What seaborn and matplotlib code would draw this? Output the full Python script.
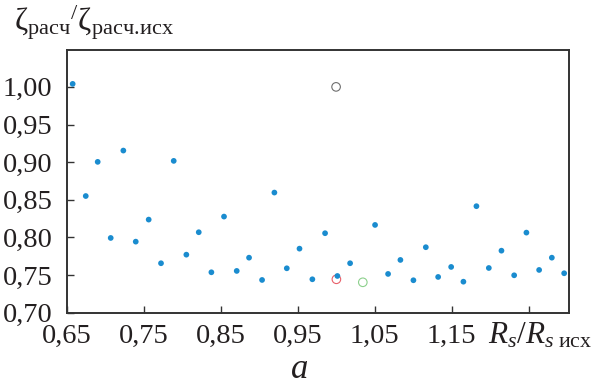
import matplotlib
matplotlib.use("Agg")
import matplotlib.pyplot as plt
import seaborn as sns
import pandas as pd

# ---- data ----
ratio_rs = [0.658, 0.675, 0.6905, 0.7074, 0.7238, 0.7399, 0.7567, 0.7727, 0.7892,
            0.8056, 0.8217, 0.8381, 0.8545, 0.8710, 0.8870, 0.9039, 0.9199, 0.9360,
            0.9525, 0.9692, 0.9857, 1.0017, 1.0182, 1.0506, 1.0675, 1.0835, 1.1004,
            1.1165, 1.1325, 1.1494, 1.1653, 1.1822, 1.1983, 1.2147, 1.2312, 1.2471,
            1.2636, 1.2801, 1.2961]
ratio_zeta = [1.004, 0.855, 0.9004, 0.7993, 0.9154, 0.7944, 0.8237, 0.7657, 0.9017,
              0.7771, 0.8069, 0.7537, 0.8277, 0.7555, 0.7731, 0.7435, 0.8596, 0.7590,
              0.7851, 0.7444, 0.8056, 0.7488, 0.7657, 0.8166, 0.7515, 0.7701, 0.7431,
              0.7870, 0.7475, 0.7608, 0.7412, 0.8415, 0.7594, 0.7824, 0.7497, 0.8064,
              0.7568, 0.7731, 0.7524]

ref_x = [1.000, 1.0004, 1.0347]
ref_y = [1.000, 0.7444, 0.7404]
ref_kind = ["black", "red", "green"]

x_ticks = [0.65, 0.75, 0.85, 0.95, 1.05, 1.15, 1.25]
x_ticklabels = ["0,65", "0,75", "0,85", "0,95", "1,05", "1,15", ""]
y_ticks = [0.70, 0.75, 0.80, 0.85, 0.90, 0.95, 1.00]
y_ticklabels = ["0,70", "0,75", "0,80", "0,85", "0,90", "0,95", "1,00"]

# ---- style ----
sns.set_theme(style="white")
plt.rcParams["font.family"] = ["Liberation Serif", "DejaVu Serif"]
plt.rcParams["mathtext.fontset"] = "custom"
plt.rcParams["mathtext.rm"] = "Liberation Serif"
plt.rcParams["mathtext.it"] = "Liberation Serif:italic"
plt.rcParams["mathtext.bf"] = "Liberation Serif:bold"

fig = plt.figure(figsize=(5.96, 3.85), dpi=100)
ax = fig.add_axes([66.5 / 596, 1 - 312.7 / 385, (568.7 - 66.5) / 596, (312.7 - 50) / 385])

df = pd.DataFrame({"x": ratio_rs, "y": ratio_zeta})
ref = pd.DataFrame({"x": ref_x, "y": ref_y, "kind": ref_kind})
ref_colors = {"black": "#6e6e6e", "red": "#e8606a", "green": "#8cd08c"}

for k in ref_kind:
    sub = ref[ref["kind"] == k]
    sns.scatterplot(data=sub, x="x", y="y", ax=ax, s=38, facecolors="none",
                    edgecolor=ref_colors[k], linewidth=0.8, legend=False, zorder=2)

sns.scatterplot(data=df, x="x", y="y", ax=ax, s=17, color="#1a8ccf",
                edgecolor="none", legend=False, zorder=3)

ax.set_xlim(0.65, 1.302)
ax.set_ylim(0.70, 1.049)
ax.set_xticks(x_ticks)
ax.set_xticklabels(x_ticklabels)
ax.set_yticks(y_ticks)
ax.set_yticklabels(y_ticklabels)
ax.set_xlabel("")
ax.set_ylabel("")

ax.tick_params(axis="both", direction="in", length=5, width=1.0, color="#333333",
               labelsize=20.5, labelcolor="#231f20", pad=9)
ax.tick_params(axis="x", bottom=True, top=False, pad=8)
ax.tick_params(axis="y", left=True, right=False, pad=10)
for sp in ax.spines.values():
    sp.set_visible(True)
    sp.set_color("#333333")
    sp.set_linewidth(1.4)

fig.text(14 / 596, 1 - 31 / 385,
         r"$\mathrm{ζ}_{\mathrm{расч}}{}^{/}\mathrm{ζ}_{\mathrm{расч}\mathrm{.}\!\mathrm{исх}}$",
         fontsize=23, color="#231f20", ha="left", va="baseline")
fig.text(488 / 596, 1 - 343 / 385, r"$R_s/R_{s\ \mathrm{исх}}$",
         fontsize=22.5, color="#231f20", ha="left", va="baseline")
fig.text(300 / 596, 1 - 378 / 385, "a", fontsize=25, style="italic",
         color="#231f20", ha="center", va="baseline")

fig.savefig("out.png", dpi=100)
